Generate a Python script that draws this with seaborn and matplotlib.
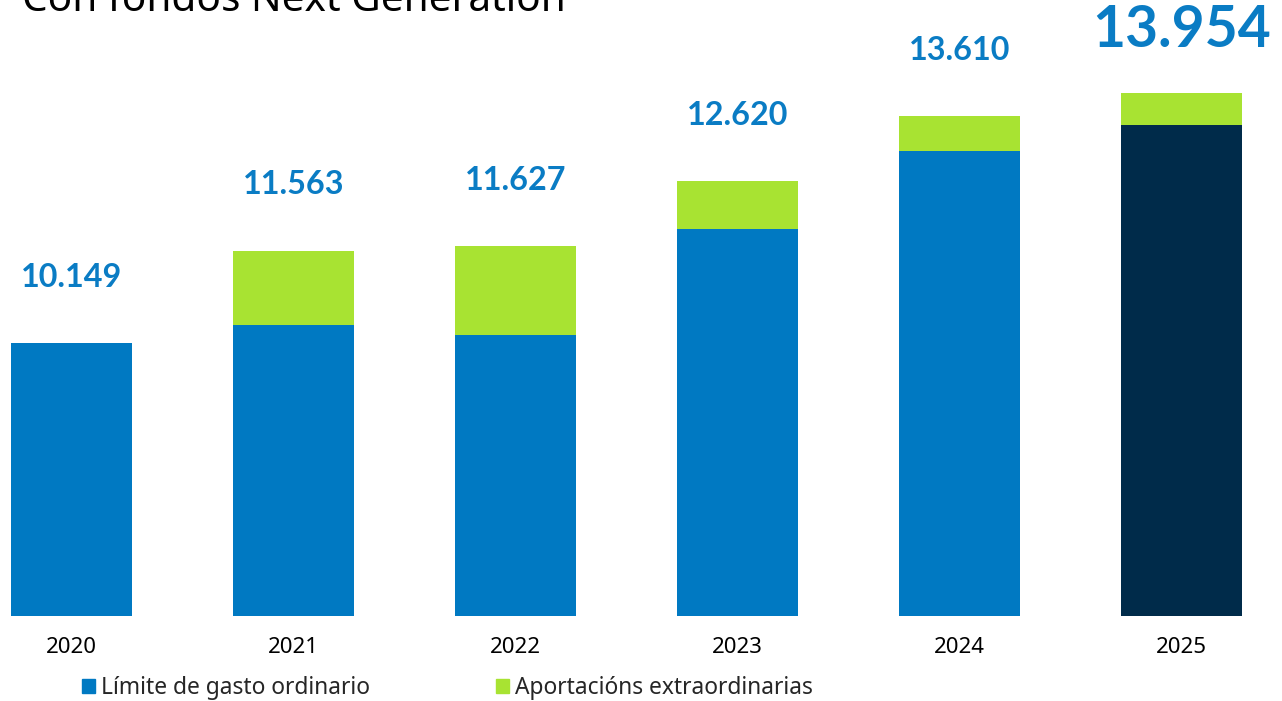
import matplotlib
matplotlib.use("Agg")
import matplotlib.pyplot as plt
import seaborn as sns
import pandas as pd
from matplotlib.patches import Patch

years = ["2020", "2021", "2022", "2023", "2024", "2025"]
ordinario = [10149, 10429, 10277, 11890, 13077, 13473]
extra = [0, 1134, 1350, 730, 533, 481]
totals = [10149, 11563, 11627, 12620, 13610, 13954]
total_labels = ["10.149", "11.563", "11.627", "12.620", "13.610", "13.954"]
legend_labels = ["Límite de gasto ordinario", "Aportacións extraordinarias"]
title = "Con fondos Next Generation"

BLUE = "#0079C2"
GREEN = "#A8E332"
NAVY = "#002B4A"
LABEL_BLUE = "#0A7CC4"

sns.set_theme(style="white")
plt.rcParams["font.family"] = ["Noto Sans", "DejaVu Sans"]

df = pd.DataFrame({"year": years, "ord": ordinario,
                   "tot": [o + e for o, e in zip(ordinario, extra)]})

fig = plt.figure(figsize=(12.82, 7.01), dpi=100)
ax = fig.add_axes([0, 85 / 701, 1, 1 - 85 / 701])

sns.barplot(data=df, x="year", y="tot", hue="year",
            palette=[GREEN] * len(years), width=0.548, legend=False,
            ax=ax, saturation=1, linewidth=0, edgecolor="none")
bar_cols = [BLUE] * (len(years) - 1) + [NAVY]
sns.barplot(data=df, x="year", y="ord", hue="year",
            palette=bar_cols, width=0.548, legend=False,
            ax=ax, saturation=1, linewidth=0, edgecolor="none")

ax.set_xlim(-0.322, 5.453)
ax.set_ylim(6000, 15376)
for s in ax.spines.values():
    s.set_visible(False)
ax.set_yticks([])
ax.set_xlabel("")
ax.set_ylabel("")
ax.tick_params(axis="x", length=0, pad=15, labelsize=16, labelcolor="black")

for i, (t, lab) in enumerate(zip(totals, total_labels)):
    last = i == len(years) - 1
    ax.annotate(lab, (i, t), xytext=(0, 45.5 if last else 47.5),
                textcoords="offset points", ha="center", va="center",
                fontsize=41 if last else 23.3, fontweight="bold",
                color=LABEL_BLUE, family=["Lato", "DejaVu Sans"])

fig.text(22 / 1282, 1 - 11 / 701, title, fontsize=29.2, color="black",
         va="baseline", ha="left")

handles = [Patch(color=BLUE), Patch(color=GREEN)]
fig.legend(handles, legend_labels, loc="center left",
           bbox_to_anchor=(82 / 1282, 1 - 688 / 701), ncol=2, frameon=False,
           fontsize=16.4, handlelength=0.55, handleheight=0.55,
           handletextpad=0.3, columnspacing=5.52, borderaxespad=0,
           borderpad=0)

fig.savefig("out.png", dpi=100)
